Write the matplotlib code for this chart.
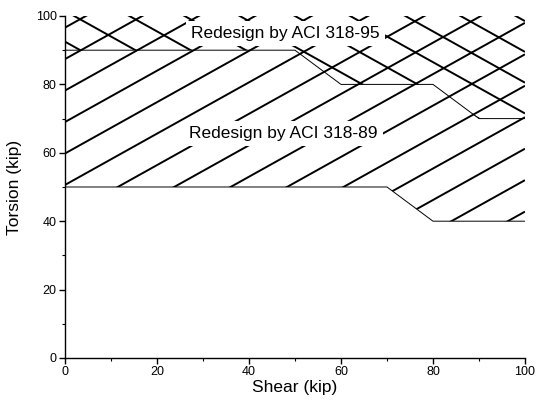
# Torsion vs shear redesign regions (ACI 318-89 / 318-95)

import numpy as np
import matplotlib.pyplot as plt
from matplotlib.patches import Polygon

plt.rcParams['font.family'] = ['Liberation Sans', 'DejaVu Sans']

# Boundary curves
shear_89 = [0, 70, 80, 100]
torsion_89 = [50, 50, 40, 40]

shear_95 = [0, 50, 60, 80, 90, 100]
torsion_95 = [90, 90, 80, 80, 70, 70]

label_89 = 'Redesign by ACI 318-89'
label_95 = 'Redesign by ACI 318-95'

ticks = [0, 20, 40, 60, 80, 100]

fig = plt.figure(figsize=(5.38, 4.03), dpi=100)
ax = fig.add_axes([0.1208, 0.1117, 0.855, 0.8486])

ax.set_xlim(0, 100)
ax.set_ylim(0, 100)

# Regions above each boundary, used to clip the hand-style hatching
def region(xs, ys, top=100):
    pts = list(zip(xs, ys)) + [(xs[-1], top), (xs[0], top)]
    patch = Polygon(pts, closed=True, fill=False, lw=0, edgecolor='none')
    ax.add_patch(patch)
    return patch

reg_89 = region(shear_89, torsion_89)
reg_95 = region(shear_95, torsion_95)

# "/" hatching over the 318-89 region
xx = np.array([0, 100])
for c in np.arange(50.6 - 9.2 * 12, 100, 9.2):
    ln, = ax.plot(xx, c + 0.75 * xx, color='black', lw=1.4, solid_capstyle='butt')
    ln.set_clip_path(reg_89)

# "\" hatching over the 318-95 region
for c in np.arange(92.5, 180, 9.0):
    ln, = ax.plot(xx, c - 0.75 * xx, color='black', lw=1.4, solid_capstyle='butt')
    ln.set_clip_path(reg_95)

# Boundary lines
ax.plot(shear_89, torsion_89, color='black', lw=0.7)
ax.plot(shear_95, torsion_95, color='black', lw=0.7)

# Labels with white backing so the hatching breaks around them
box = dict(facecolor='white', edgecolor='none', pad=3.5)
ax.text(27.4, 93.6, label_95, fontsize=12.5, ha='left', va='baseline', bbox=box, zorder=5)
ax.text(27.0, 64.3, label_89, fontsize=12.5, ha='left', va='baseline', bbox=box, zorder=5)

# Axes styling
ax.spines['top'].set_visible(False)
ax.spines['right'].set_visible(False)
ax.spines['left'].set_linewidth(1.0)
ax.spines['bottom'].set_linewidth(1.0)

ax.set_xticks(ticks)
ax.set_yticks(ticks)
ax.set_xticks(np.arange(10, 100, 20), minor=True)
ax.set_yticks(np.arange(10, 100, 20), minor=True)
ax.tick_params(which='major', direction='out', length=4, width=1, labelsize=9, pad=2)
ax.tick_params(which='minor', direction='out', length=2, width=0.8)

ax.set_xlabel('Shear (kip)', fontsize=12.5, labelpad=1)
ax.set_ylabel('Torsion (kip)', fontsize=12.5, labelpad=10)

fig.savefig('out.png', dpi=100)
